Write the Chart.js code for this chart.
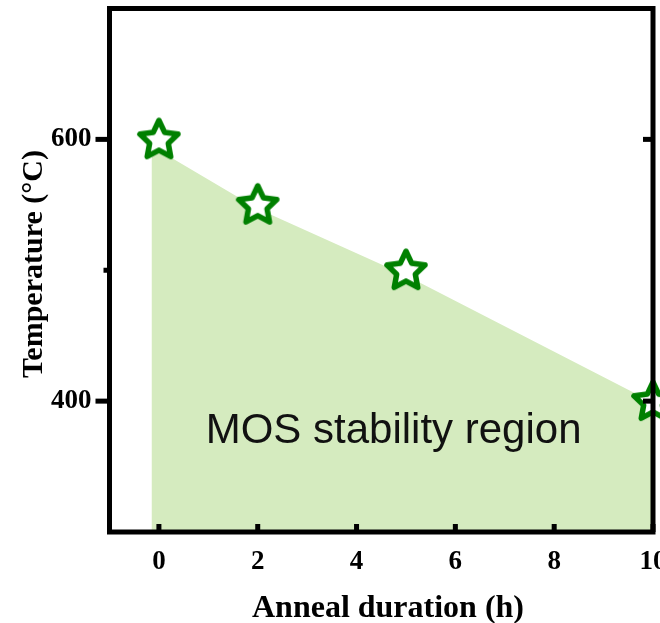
<!DOCTYPE html>
<html>
<head>
<meta charset="utf-8">
<script src="https://cdn.jsdelivr.net/npm/chart.js@4.4.0/dist/chart.umd.min.js"></script>
<style>
  html, body { margin: 0; padding: 0; background: #ffffff; overflow: hidden; }
  #wrap { position: relative; width: 700px; height: 623px; }
</style>
</head>
<body>
<div id="wrap"><canvas id="c" width="700" height="623"></canvas></div>
<script>
// ---- data ----
const annealHours = [0, 2, 5, 10];
const maxTemperature = [600, 550, 500, 400];
const regionHours = [-0.15, 2, 5, 10];
const regionTemps = [595, 547, 496, 399];
const xTickValues = [0, 2, 4, 6, 8, 10];
const yTickValues = [400, 600];
const yMinorTicks = [500];
const regionLabel = 'MOS stability region';
const xTitle = 'Anneal duration (h)';
const yTitle = 'Temperature (\u00B0C)';

// star marker image
function makeStar() {
  const s = 56, c = document.createElement('canvas');
  c.width = s; c.height = s;
  const g = c.getContext('2d');
  const R = 20, r = 9.8, cx = s / 2, cy = s / 2 + 1;
  g.beginPath();
  for (let i = 0; i < 10; i++) {
    const rad = i % 2 === 0 ? R : r;
    const a = -Math.PI / 2 + i * Math.PI / 5;
    const px = cx + rad * Math.cos(a), py = cy + rad * Math.sin(a);
    if (i === 0) g.moveTo(px, py); else g.lineTo(px, py);
  }
  g.closePath();
  g.fillStyle = '#ffffff';
  g.fill();
  g.lineWidth = 5.5;
  g.lineJoin = 'round';
  g.strokeStyle = '#008000';
  g.stroke();
  return c;
}
const starImg = makeStar();

const serifFam = '"Liberation Serif", "Times New Roman", serif';

const framePlugin = {
  id: 'frame',
  afterDatasetsDraw(chart) {
    const { ctx, chartArea: a, scales } = chart;
    const xs = scales.x, ys = scales.y;
    ctx.save();
    // region label
    ctx.fillStyle = '#111111';
    ctx.font = '42px "Liberation Sans", Arial, sans-serif';
    ctx.textAlign = 'center';
    ctx.textBaseline = 'alphabetic';
    ctx.fillText(regionLabel, xs.getPixelForValue(4.75), ys.getPixelForValue(368));
    // frame
    ctx.strokeStyle = '#000000';
    ctx.lineWidth = 5;
    ctx.lineJoin = 'miter';
    ctx.strokeRect(a.left, a.top, a.right - a.left, a.bottom - a.top);
    ctx.fillStyle = '#000000';
    xTickValues.forEach(v => {
      const px = xs.getPixelForValue(v);
      ctx.fillRect(px - 2.5, a.bottom - 8, 5, 8);
    });
    yTickValues.forEach(v => {
      const py = ys.getPixelForValue(v);
      ctx.fillRect(a.left - 14, py - 2.5, 14, 5);
      ctx.fillRect(a.right - 10, py - 2.5, 10, 5);
    });
    yMinorTicks.forEach(v => {
      const py = ys.getPixelForValue(v);
      ctx.fillRect(a.left - 6, py - 2.5, 6, 5);
    });
    // axis titles
    ctx.fillStyle = '#000000';
    ctx.font = 'bold 32px ' + serifFam;
    ctx.textAlign = 'center';
    ctx.textBaseline = 'alphabetic';
    ctx.fillText(xTitle, 388, 617);
    ctx.save();
    ctx.translate(42, 264);
    ctx.rotate(-Math.PI / 2);
    ctx.font = 'bold 30px ' + serifFam;
    ctx.fillText(yTitle, 0, 0);
    ctx.restore();
    ctx.restore();
  }
};

new Chart(document.getElementById('c'), {
  type: 'scatter',
  data: {
    datasets: [
      {
        type: 'scatter',
        data: annealHours.map((h, i) => ({ x: h, y: maxTemperature[i] })),
        pointStyle: starImg,
        pointRadius: 20,
        clip: false,
        order: 1
      },
      {
        type: 'line',
        data: regionHours.map((h, i) => ({ x: h, y: regionTemps[i] })),
        borderWidth: 0,
        borderColor: 'rgba(0,0,0,0)',
        pointRadius: 0,
        fill: 'start',
        backgroundColor: '#d5ebbf',
        tension: 0,
        order: 2
      }
    ]
  },
  options: {
    responsive: false,
    animation: false,
    events: [],
    layout: { autoPadding: false, padding: { left: 0, top: 8.5, right: 47, bottom: 0 } },
    plugins: { legend: { display: false }, tooltip: { enabled: false } },
    scales: {
      x: {
        type: 'linear',
        min: -1, max: 10,
        afterFit(s) { s.height = 91; s.paddingLeft = 0; s.paddingRight = 0; },
        afterBuildTicks(s) { s.ticks = xTickValues.map(v => ({ value: v })); },
        grid: { display: false, drawTicks: false },
        border: { display: false },
        ticks: { color: '#000', font: { family: serifFam, weight: 'bold', size: 27 }, padding: 14, maxRotation: 0, autoSkip: false }
      },
      y: {
        type: 'linear',
        min: 300, max: 700,
        afterFit(s) { s.width = 109.5; s.paddingTop = 0; s.paddingBottom = 0; },
        afterBuildTicks(s) { s.ticks = yTickValues.map(v => ({ value: v })); },
        grid: { display: false, drawTicks: false },
        border: { display: false },
        ticks: { color: '#000', font: { family: serifFam, weight: 'bold', size: 27 }, padding: 18, autoSkip: false }
      }
    }
  },
  plugins: [framePlugin]
});
</script>
</body>
</html>
